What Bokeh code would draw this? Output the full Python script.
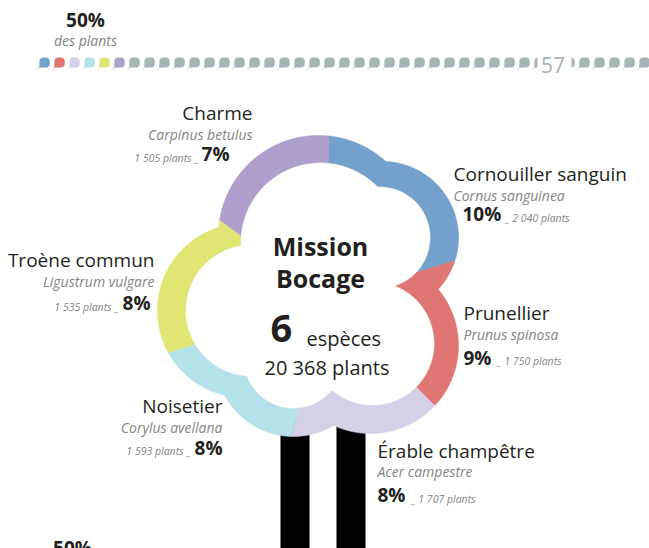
import numpy as np
from bokeh.plotting import figure
from bokeh.models import Range1d
from bokeh.core.properties import value
from bokeh.embed import file_html
from bokeh.resources import INLINE

# ---------------- data ----------------
species = ["Cornouiller sanguin", "Prunellier", "Érable champêtre",
           "Noisetier", "Troène commun", "Charme"]
latin_names = ["Cornus sanguinea", "Prunus spinosa", "Acer campestre",
               "Corylus avellana", "Ligustrum vulgare", "Carpinus betulus"]
plants = [2040, 1750, 1707, 1593, 1535, 1505]
percents = [10, 9, 8, 8, 8, 7]
colors = ["#74a1cc", "#e07673", "#d5d0e8", "#b5e2ea", "#e0e673", "#ae9fcc"]
total_plants = 20368
n_species = 6
share_label = "50%"
share_caption = "des plants"
page_number = "57"
n_leaves = 41
title_lines = ["Mission", "Bocage"]


def fmt(n):
    return f"{n:,}".replace(",", " ")


# ---------------- layout / style ----------------
FONT = value("Open Sans")
DARK = "#231f20"
GREY_TXT = "#858585"
LEAF_GREY = "#a6b4b8"

W, H = 649, 548
p = figure(width=W, height=H, x_range=Range1d(0, W), y_range=Range1d(H, 0),
           output_backend="svg", toolbar_location=None, min_border=0,
           x_axis_type=None, y_axis_type=None,
           background_fill_color="white", border_fill_color="white",
           outline_line_color=None)
p.grid.visible = False

BASE_SHIFT = 0.4  # correction (in em) between the wanted baseline and the drawn one


def label(x, y_base, text, size, style="normal", color=DARK, align="left"):
    p.text(x=[x], y=[y_base - BASE_SHIFT * size], text=[text], text_font=FONT,
           text_font_size=f"{size}px", text_font_style=style, text_color=color,
           text_align=align, text_baseline="alphabetic")


# ---- leaf row (rounded-square leaves, pointed at the bottom-left) ----
leaf_x0, leaf_dx, leaf_y = 43.5, 15.0, 62.0
phi = np.radians(np.linspace(180, 450, 48))
ex = 2.0 / 3.2
body_x = list(5.0 * np.sign(np.cos(phi)) * np.abs(np.cos(phi)) ** ex) + [-5.2]
body_y = list(4.8 * np.sign(np.sin(phi)) * np.abs(np.sin(phi)) ** ex) + [4.9]
body_x = [v + 0.6 for v in body_x]
lx, ly, lc, sx0, sy0, sx1, sy1 = [], [], [], [], [], [], []
for k in range(n_leaves):
    cx = leaf_x0 + leaf_dx * k
    col = colors[k] if k < n_species else LEAF_GREY
    lx.append([cx + v for v in body_x])
    ly.append([leaf_y + v for v in body_y])
    lc.append(col)
    sx0.append(cx - 4.6); sy0.append(leaf_y + 4.9)
    sx1.append(cx - 6.8); sy1.append(leaf_y + 7.8)
p.segment(sx0, sy0, sx1, sy1, line_color=lc, line_width=0.8, line_alpha=0.6)
p.patches(lx, ly, fill_color=lc, line_color=lc, line_width=0.4)

# page number with white background
p.quad(left=[537], right=[571], top=[52], bottom=[75], fill_color="white", line_color=None)
label(552.5, 72.5, page_number, 21, color=LEAF_GREY, align="center")

# top-left share
label(85, 27, share_label, 19, style="bold", align="center")
label(85, 45.5, share_caption, 14, style="italic", color=GREY_TXT, align="center")

# bottom share label (cut by the page edge, as in the source)
label(72, 555, share_label, 19, style="bold", align="center")

# ---- trunk ----
p.quad(left=[280, 336], right=[309, 365], top=[415, 415], bottom=[560, 560],
       fill_color="black", line_color=None)

# ---- cloud donut ----
C = (328.0, 300.0)
outer_lobes = [(318, 235, 100), (382, 237, 76), (370, 345, 88), (293, 358, 78), (244, 310, 87)]
inner_lobes = [(320, 242, 80), (379, 237, 51), (372, 343, 62), (293, 358, 50), (251, 310, 66)]


def ray_radius(a, lobes):
    dx, dy = np.sin(a), -np.cos(a)
    best = np.zeros_like(a)
    for cx, cy, r in lobes:
        vx, vy = cx - C[0], cy - C[1]
        b = dx * vx + dy * vy
        disc = b * b - (vx * vx + vy * vy - r * r)
        t = np.where(disc >= 0, b + np.sqrt(np.clip(disc, 0, None)), 0)
        best = np.maximum(best, t)
    return best


frac = np.cumsum([0] + plants) / float(sum(plants))
dxs, dys = [], []
for i in range(n_species):
    a = np.linspace(frac[i], frac[i + 1], 400) * 2 * np.pi
    ro = ray_radius(a, outer_lobes)
    ri = ray_radius(a, inner_lobes)
    ox, oy = C[0] + ro * np.sin(a), C[1] - ro * np.cos(a)
    ix, iy = C[0] + ri * np.sin(a), C[1] - ri * np.cos(a)
    dxs.append(np.concatenate([ox, ix[::-1]]).tolist())
    dys.append(np.concatenate([oy, iy[::-1]]).tolist())
p.patches(dxs, dys, fill_color=colors, line_color=colors, line_width=0.6)

# ---- centre text ----
label(320, 255, title_lines[0], 25, style="bold", align="center")
label(320, 287, title_lines[1], 25, style="bold", align="center")
label(270, 343.5, str(n_species), 38, style="bold")
label(306, 345.5, "espèces", 20)
label(326.5, 375, fmt(total_plants) + " plants", 20, align="center")

# ---- labels ----
# side, name x, name y, latin y, pct x, pct y, small-text x
label_layout = [
    ("R", 453, 181.5, 200.5, 462, 221.5, 505),
    ("R", 463, 320.5, 339.5, 463, 365.0, 497),
    ("R", 377, 458.0, 477.0, 377, 502.5, 411),
    ("L", 222, 413.0, 433.0, 222, 455.0, 190),
    ("L", 154, 267.0, 287.0, 150, 310.5, 118),
    ("L", 252, 120.5, 139.5, 229, 161.5, 198),
]
for i, (side, nx, ny, ly_, px, py, sx) in enumerate(label_layout):
    align = "left" if side == "R" else "right"
    label(nx, ny, species[i], 19, align=align)
    label(nx, ly_, latin_names[i], 14, style="italic", color=GREY_TXT, align=align)
    label(px, py, f"{percents[i]}%", 19, style="bold", align=align)
    small = (f"_ {fmt(plants[i])} plants" if side == "R" else f"{fmt(plants[i])} plants _")
    label(sx, py, small, 10.5, style="italic", color=GREY_TXT, align=align)

open("out.html", "w").write(file_html(p, INLINE))
